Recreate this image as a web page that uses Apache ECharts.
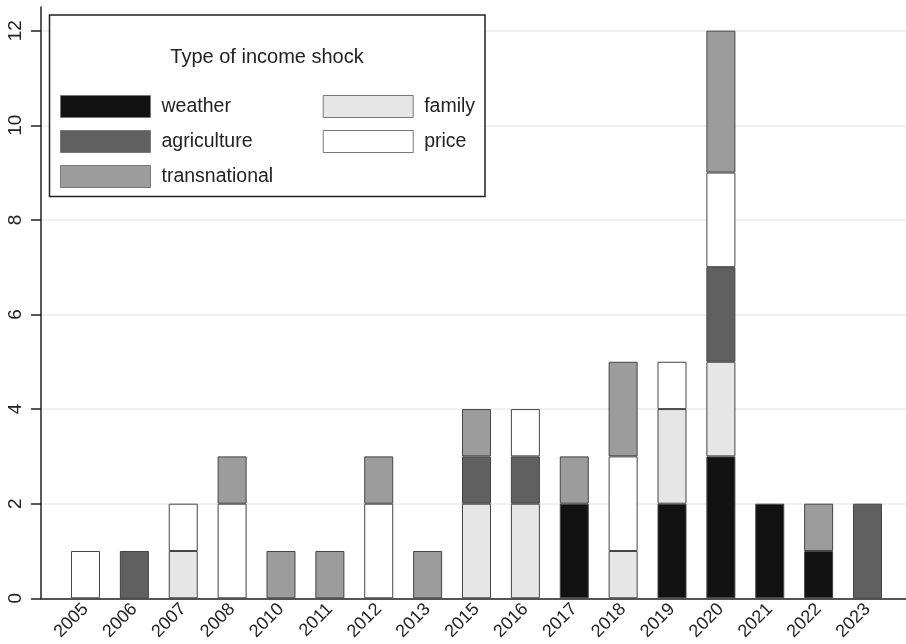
<!DOCTYPE html>
<html>
<head>
<meta charset="utf-8">
<script src="https://cdn.jsdelivr.net/npm/echarts@6/dist/echarts.min.js"></script>
<style>
  html, body { margin: 0; padding: 0; background: #fff; }
  #chart { width: 906px; height: 644px; }
</style>
</head>
<body>
<div id="chart"></div>
<script>
// Years with at least one recorded income shock
const years = ['2005', '2006', '2007', '2008', '2010', '2011', '2012', '2013', '2015',
               '2016', '2017', '2018', '2019', '2020', '2021', '2022', '2023'];

// Counts per shock type (stacked bottom to top in this order)
const weather       = [0, 0, 0, 0, 0, 0, 0, 0, 0, 0, 2, 0, 2, 3, 2, 1, 0];
const family        = [0, 0, 1, 0, 0, 0, 0, 0, 2, 2, 0, 1, 2, 2, 0, 0, 0];
const agriculture   = [0, 1, 0, 0, 0, 0, 0, 0, 1, 1, 0, 0, 0, 2, 0, 0, 2];
const price         = [1, 0, 1, 2, 0, 0, 2, 0, 0, 1, 0, 2, 1, 2, 0, 0, 0];
const transnational = [0, 0, 0, 1, 1, 1, 1, 1, 1, 0, 1, 2, 0, 3, 0, 1, 0];

const yTicks = [0, 2, 4, 6, 8, 10, 12];
const Y_MAX = 12.5;

const FONT = '"Liberation Sans", Arial, sans-serif';
const TEXT = '#222';

const shockSeries = [
  { name: 'weather',       values: weather,       color: '#121212' },
  { name: 'family',        values: family,        color: '#e6e6e6' },
  { name: 'agriculture',   values: agriculture,   color: '#606060' },
  { name: 'price',         values: price,         color: '#ffffff' },
  { name: 'transnational', values: transnational, color: '#9c9c9c' }
];

// Bars live on the inner grid (1); the outer grid (0) carries the axis lines,
// ticks and the full-width gridlines.
const series = shockSeries.map(s => ({
  name: s.name,
  type: 'bar',
  stack: 'shocks',
  xAxisIndex: 1,
  yAxisIndex: 1,
  barWidth: 29,
  itemStyle: { color: s.color, borderColor: '#444', borderWidth: 1 },
  emphasis: { disabled: true },
  data: s.values.map(v => (v > 0 ? v : '-'))
}));

const legendCommon = {
  orient: 'vertical',
  top: 95,
  padding: 0,
  itemWidth: 90,
  itemHeight: 22,
  itemGap: 12,
  icon: 'rect',
  z: 10,
  selectedMode: false,
  itemStyle: { borderColor: '#777', borderWidth: 1 },
  textStyle: { fontFamily: FONT, fontSize: 19.5, color: TEXT, padding: [0, 0, 0, 6] }
};

const chart = echarts.init(document.getElementById('chart'), null, { renderer: 'canvas' });

chart.setOption({
  animation: false,
  backgroundColor: '#fff',
  grid: [
    { left: 41, right: 0, top: 7, bottom: 45.7, containLabel: false },
    { left: 61.06, right: 14.06, top: 7, bottom: 45.7, containLabel: false }
  ],
  xAxis: [
    {
      gridIndex: 0,
      type: 'value',
      min: 0,
      max: 1,
      axisLine: { show: true, onZero: false, lineStyle: { color: '#222', width: 1.5 } },
      axisTick: { show: false },
      axisLabel: { show: false },
      splitLine: { show: false }
    },
    {
      gridIndex: 1,
      type: 'category',
      data: years,
      axisLine: { show: false },
      axisTick: { show: false },
      splitLine: { show: false },
      axisLabel: {
        rotate: 45,
        margin: 8,
        interval: 0,
        fontFamily: FONT,
        fontSize: 18,
        color: TEXT
      }
    }
  ],
  yAxis: [
    {
      gridIndex: 0,
      type: 'value',
      min: 0,
      max: Y_MAX,
      axisLine: { show: true, onZero: false, lineStyle: { color: '#222', width: 1.5 } },
      axisTick: { show: true, length: 10, customValues: yTicks, lineStyle: { color: '#222', width: 1.5 } },
      splitLine: { show: true, lineStyle: { color: '#ebebeb', width: 1.5 } },
      axisLabel: {
        customValues: yTicks,
        rotate: 90,
        margin: 16,
        fontFamily: FONT,
        fontSize: 19,
        color: TEXT
      }
    },
    {
      gridIndex: 1,
      type: 'value',
      min: 0,
      max: Y_MAX,
      axisLine: { show: false },
      axisTick: { show: false },
      axisLabel: { show: false },
      splitLine: { show: false }
    }
  ],
  legend: [
    Object.assign({}, legendCommon, { left: 60, data: ['weather', 'agriculture', 'transnational'] }),
    Object.assign({}, legendCommon, { left: 322.7, data: ['family', 'price'] })
  ],
  graphic: [
    {
      type: 'rect',
      z: 5,
      silent: true,
      shape: { x: 49.5, y: 15, width: 435.5, height: 181.5 },
      style: { fill: '#fff', stroke: '#222', lineWidth: 1.5 }
    },
    {
      type: 'text',
      z: 10,
      silent: true,
      x: 267,
      y: 57,
      style: {
        text: 'Type of income shock',
        fontFamily: FONT,
        fontSize: 20,
        fill: TEXT,
        align: 'center',
        verticalAlign: 'middle'
      }
    }
  ],
  series: series
});
</script>
</body>
</html>
